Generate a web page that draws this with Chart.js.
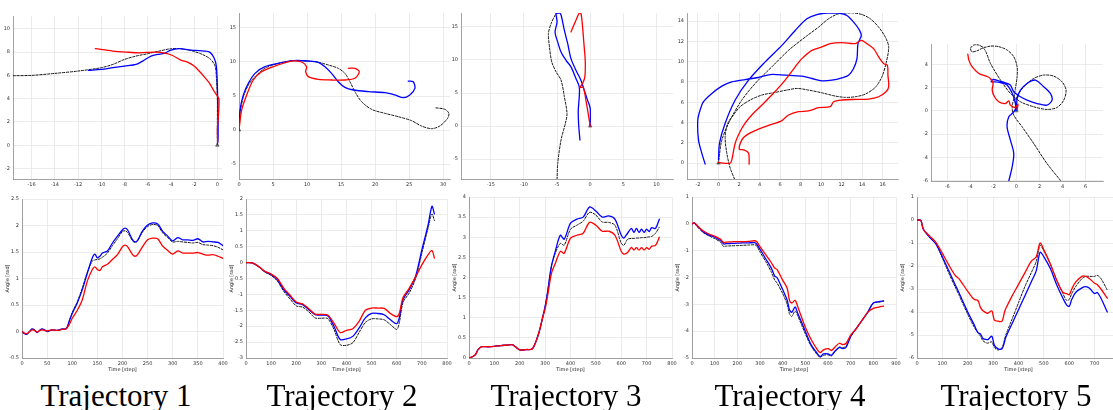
<!DOCTYPE html>
<html><head><meta charset="utf-8">
<script src="https://cdn.jsdelivr.net/npm/chart.js@4.4.0/dist/chart.umd.min.js"></script>
<style>
html,body{margin:0;padding:0;background:#fff;overflow:hidden;width:1113px;height:410px;position:relative;}
canvas{position:absolute;}
.ttl{position:absolute;top:378px;font-family:"Liberation Serif","DejaVu Serif",serif;font-size:31px;line-height:normal;transform:translateX(-50%);white-space:nowrap;color:#000;}
</style></head><body>
<script>
// ---------- Trajectory XY paths (black = reference dashed, blue, red) ----------
const traj1BlackX = [-17.57,-16,-14,-12,-10,-9,-8,-7,-6,-5,-4,-3.14,-2.14,-1.29,-0.57,-0.2,-0.09,0,0,0];
const traj1BlackY = [5.97,6.0,6.17,6.37,6.66,6.94,7.37,7.66,7.86,8.09,8.29,8.29,8.09,7.8,7.37,6.8,5.94,3.94,1.66,0.23];
const traj1BlueX = [-11.1,-10,-9,-8,-7,-6.43,-5.71,-5.14,-4.57,-4,-3.29,-2.71,-1.86,-1.14,-0.66,-0.29,-0.09,0,0.06,0.06,0];
const traj1BlueY = [6.43,6.51,6.66,6.8,6.94,7.23,7.66,7.8,7.89,8.17,8.29,8.23,8.14,8.09,8.0,7.51,6.8,5.09,2.51,0.51,0.09];
const traj1RedX = [-10.51,-9,-7.86,-6.71,-5.29,-4.43,-3.86,-3.14,-2.57,-2,-1.57,-1.14,-0.71,-0.29,0,0.14,0.09,0,0.03];
const traj1RedY = [8.29,8.09,8.0,7.94,8.0,7.89,7.71,7.31,7.14,6.8,6.37,5.89,5.37,4.66,4.23,3.94,2.51,1.37,0.23];

const traj2BlackX = [0,0.15,0.64,1.37,2.35,3.82,5.77,7.98,10.18,11.65,13.12,14.58,15.56,16.3,17.03,18.0,19.48,21.44,23.4,25.36,26.8,28.29,29.5,30.64,30.83,30.25,28.78];
const traj2BlackY = [0,2.45,4.9,6.6,7.84,9.07,9.8,10.2,10.14,9.95,9.56,9.07,8.33,7.1,5.64,4.17,3.04,2.45,1.96,1.37,0.59,0.2,0.59,1.71,2.45,3.04,3.28];
const traj2BlueX = [0,0.15,0.64,1.37,2.35,3.82,5.77,7.98,10.18,11.65,12.63,13.6,14.58,15.56,16.79,18.99,21.44,22.9,24.13,25.1,25.84,25.6,24.86];
const traj2BlueY = [0,2.94,5.15,6.86,8.33,9.31,9.8,10.2,10.14,9.95,9.31,8.33,7.1,6.27,5.88,5.64,5.49,5.15,4.75,5.15,6.12,7.1,7.2];
const traj2RedX = [0,0.39,1.13,2.1,3.33,5.29,7.73,9.2,9.93,9.79,10.18,11.65,13.6,15.56,17.03,17.67,17.03,16.05];
const traj2RedY = [0,2.94,5.15,7.35,8.57,9.41,10.14,10.0,9.31,8.57,7.84,7.44,7.35,7.35,7.6,8.57,9.07,9.07];

const traj3BlackX = [-5,-4.9,-4.4,-3.75,-3.5,-3.9,-4.4,-5.15,-5.8,-6.15,-6.3,-5.9,-5.15,-4.9];
const traj3BlackY = [-8.05,-5.64,-2.1,0.4,1.9,4.43,6.95,8.2,9.7,12.0,14.0,15.5,17.0,17.1];
const traj3BlueX = [0,0,-0.4,-0.9,-1.4,-2.15,-2.9,-3.4,-3.9,-4.4,-4.65,-5.15,-5,-5.3,-4.9,-4.4,-3.65,-2.9,-2.15,-1.65,-1.65,-1.8,-1.75,-1.55];
const traj3BlueY = [0,2.67,3.93,5.44,6.95,8.45,10.2,12.5,14.5,16.8,17.1,17.1,15.75,14.2,12.7,11.2,9.95,8.95,7.2,5.94,4.43,2.4,0.4,-2.1];
const traj3RedX = [0,-0.3,-0.65,-1.05,-1.55,-1.15,-0.8,-0.75,-0.95,-1.15,-1.4,-1.65,-2.15,-2.9];
const traj3RedY = [0,1.9,3.93,5.84,5.84,6.44,7.45,9.96,12.5,15.0,17.1,17.1,16.0,14.24];

const traj4BlackX = [1.56,1.14,0.81,0.65,0.91,1.46,2.11,3.09,4.23,5.53,6.67,7.64,8.78,10.08,11.38,12.36,13.33,14.31,15.28,15.93,16.33,16.59,16.26,15.61,14.8,13.98,13.0,11.71,10.73,9.76,8.46,6.83,5.2,3.58,2.28,1.14,0.33,0.07,0];
const traj4BlackY = [-1.57,-0.49,0.98,2.62,3.93,4.74,5.56,6.22,6.71,6.97,7.2,7.36,7.2,6.93,6.61,6.48,6.54,6.8,7.46,8.5,9.81,11.45,12.43,13.41,14.23,14.65,14.82,14.72,14.23,13.41,12.43,11.12,9.49,7.85,6.22,4.25,2.29,0.65,0];
const traj4BlueX = [-1.3,-1.63,-1.95,-2.02,-1.79,-1.46,-0.65,0.33,1.3,2.6,3.9,5.04,6.5,8.13,9.1,10.08,11.06,12.03,12.68,13.17,13.5,13.6,13.92,13.66,13.17,12.52,11.71,10.73,9.59,8.62,7.48,6.18,4.55,2.93,1.63,0.65,0.1,0];
const traj4BlueY = [-0.1,0.98,2.29,4.25,5.23,6.05,6.87,7.59,8.01,8.24,8.44,8.73,8.67,8.57,8.34,8.11,8.18,8.41,8.67,9.32,10.3,11.78,12.59,13.25,13.9,14.56,14.79,14.82,14.65,14.23,13.08,11.61,9.98,8.18,6.22,3.93,1.96,0.33];
const traj4RedX = [2.99,2.93,2.44,2.02,2.28,2.76,3.74,5.04,6.18,6.83,7.8,8.78,9.76,10.89,11.22,12.03,13.33,14.63,15.61,16.33,16.59,16.52,16.46,16.1,15.61,15.12,14.47,13.92,13.33,12.03,10.89,10.08,9.11,8.13,7.48,6.5,5.2,4.23,3.25,2.6,2.11,1.63,1.3,1.14,0.33,0];
const traj4RedY = [-0.1,0.98,1.31,1.37,2.29,2.78,3.27,3.76,4.19,4.74,5.07,5.14,5.46,5.56,6.05,6.22,6.28,6.31,6.54,7.03,7.52,8.67,9.65,9.81,10.47,11.29,11.78,12.1,11.78,11.87,11.78,11.45,11.12,10.3,9.49,8.18,6.71,5.72,4.74,3.93,3.11,1.96,0.33,0,0,0.07];

const traj5BlackX = [3.81,2.65,1.5,0.49,-0.23,-0.37,-0.23,-0.09,0.06,0.06,-0.23,-0.81,-1.53,-2.25,-2.83,-3.26,-3.69,-3.98,-3.84,-3.4,-2.83,-2.25,-1.38,-0.52,0.35,1.5,2.65,3.52,4.1,4.3,3.95,3.23,2.37,1.5,0.78,0.2,-0.09,0.06];
const traj5BlackY = [-5.99,-4.55,-2.82,-1.38,-0.37,0.35,1.06,1.93,2.94,3.8,4.66,5.24,5.53,5.58,5.47,5.67,5.67,5.38,5.09,5.18,5.38,4.09,2.65,1.5,0.78,0.35,0.12,0.29,0.92,1.78,2.5,2.99,3.08,2.79,2.22,1.5,0.78,0.06];
const traj5BlueX = [-0.66,-0.37,-0.23,-0.52,-0.81,-0.66,-0.23,0,0.06,0.35,0.92,1.64,2.37,2.94,3.09,2.65,1.79,0.92,0.35,-0.23,-0.52,-0.95,-1.53,-2.02,-2.19,-1.82,-1.38,-0.81,-0.29,-0.09,0];
const traj5BlueY = [-6.04,-4.83,-3.68,-2.53,-1.38,-0.52,-0.09,0.35,1.06,1.78,2.36,2.65,2.07,1.5,0.92,0.49,0.63,0.92,1.21,1.64,2.22,2.42,2.59,2.7,2.5,2.5,2.42,2.22,1.35,0.63,0.06];
const traj5RedX = [-4.21,-4.12,-3.84,-3.26,-2.48,-2.19,-2.02,-2.1,-1.9,-1.53,-0.95,-0.66,-0.52,-0.09,0.14,0.06];
const traj5RedY = [4.89,4.37,3.8,3.22,2.94,2.7,2.36,1.78,1.21,0.78,0.63,0.86,0.49,0.29,0.58,0.12];

const startX = [0];
const startY = [0];

// ---------- Angle vs time ----------
const ang1Time = [0,5,10,15,20,25,30,35,40,45,50,60,70,80,88,95,100,110,120,130,140,145,150,155,160,170,180,190,200,205,210,220,225,230,240,250,260,270,280,290,300,310,320,330,340,350,360,370,380,390,400];
const ang1Blue = [0,-0.04,-0.05,0,0.05,0.03,-0.02,0.02,0.05,0.03,0,0.03,0.02,0.05,0.05,0.22,0.34,0.54,0.79,1.1,1.39,1.46,1.39,1.42,1.48,1.52,1.67,1.8,1.92,1.95,1.92,1.73,1.69,1.72,1.9,2.01,2.05,2.03,1.89,1.8,1.71,1.77,1.73,1.73,1.72,1.75,1.69,1.7,1.69,1.68,1.62];
const ang1Black = [0,-0.04,-0.05,0,0.04,0.03,-0.02,0.02,0.04,0.03,0,0.03,0.02,0.04,0.05,0.23,0.36,0.56,0.82,1.12,1.33,1.35,1.36,1.37,1.4,1.48,1.62,1.75,1.89,1.9,1.87,1.71,1.68,1.71,1.88,1.98,2.02,2.0,1.86,1.77,1.69,1.7,1.69,1.68,1.67,1.68,1.64,1.63,1.62,1.59,1.54];
const ang1Red = [0,-0.03,-0.04,0,0.03,0.02,-0.01,0.02,0.03,0.02,0.01,0.03,0.02,0.04,0.05,0.15,0.25,0.4,0.6,0.95,1.17,1.22,1.17,1.15,1.22,1.27,1.36,1.45,1.6,1.63,1.6,1.45,1.42,1.45,1.6,1.73,1.76,1.75,1.61,1.53,1.46,1.52,1.48,1.48,1.48,1.49,1.46,1.44,1.45,1.42,1.38];

const ang2Time = [0,25,50,75,100,125,150,175,200,225,250,275,300,325,350,375,400,425,450,475,500,525,550,575,600,610,625,650,675,700,725,740,750];
const ang2Blue = [0,-0.01,-0.12,-0.28,-0.38,-0.54,-0.85,-1.06,-1.27,-1.32,-1.48,-1.64,-1.65,-1.67,-2.0,-2.42,-2.4,-2.32,-2.06,-1.74,-1.6,-1.6,-1.64,-1.8,-1.92,-1.74,-1.16,-0.85,-0.43,0.4,1.19,1.77,1.53];
const ang2Black = [0,-0.01,-0.13,-0.3,-0.4,-0.58,-0.9,-1.14,-1.36,-1.4,-1.55,-1.74,-1.75,-1.76,-2.1,-2.58,-2.6,-2.52,-2.2,-1.88,-1.77,-1.77,-1.8,-1.95,-2.1,-1.9,-1.25,-0.95,-0.5,0.3,1.1,1.53,1.32];
const ang2Red = [0,-0.01,-0.12,-0.27,-0.36,-0.5,-0.8,-1.02,-1.24,-1.3,-1.45,-1.62,-1.63,-1.65,-1.9,-2.2,-2.13,-2.08,-1.85,-1.5,-1.43,-1.43,-1.44,-1.6,-1.7,-1.6,-1.1,-0.8,-0.45,-0.07,0.25,0.38,0.14];

const ang3Time = [0,10,25,35,50,75,100,125,150,170,185,200,225,250,275,290,300,310,325,340,360,375,400,425,450,475,500,525,550,575,600,610,625,640,650,660,670,680,690,700,710,720,735,750];
const ang3Blue = [0,0.02,0.08,0.2,0.28,0.28,0.29,0.31,0.32,0.33,0.27,0.2,0.21,0.23,0.62,1.0,1.28,1.65,2.28,2.65,3.05,2.95,3.35,3.45,3.5,3.75,3.65,3.5,3.53,3.45,3.05,2.98,3.1,3.22,3.12,3.22,3.12,3.2,3.12,3.2,3.14,3.24,3.22,3.45];
const ang3Black = [0,0.02,0.08,0.2,0.28,0.28,0.29,0.31,0.32,0.33,0.27,0.2,0.21,0.23,0.62,1.0,1.28,1.65,2.3,2.6,2.85,2.8,3.2,3.3,3.4,3.62,3.55,3.38,3.37,3.3,2.85,2.8,2.95,2.97,2.97,2.98,2.98,2.99,2.99,3.0,3.01,3.02,3.1,3.25];
const ang3Red = [0,0.02,0.08,0.2,0.28,0.28,0.29,0.31,0.32,0.33,0.27,0.2,0.21,0.23,0.62,1.0,1.22,1.55,2.1,2.35,2.65,2.6,2.98,3.05,3.1,3.37,3.3,3.15,3.15,3.05,2.65,2.58,2.62,2.75,2.68,2.74,2.68,2.74,2.68,2.74,2.7,2.78,2.8,3.0];

const ang4Time = [0,10,25,50,75,100,125,140,150,175,200,225,250,275,285,300,325,350,365,375,400,420,430,440,455,465,480,500,525,550,565,580,600,615,630,650,665,680,700,725,750,775,800,825,845];
const ang4Blue = [0,0.03,-0.1,-0.3,-0.42,-0.5,-0.62,-0.75,-0.74,-0.73,-0.72,-0.71,-0.71,-0.7,-0.75,-0.95,-1.3,-1.65,-1.95,-2.0,-2.45,-2.85,-3.2,-3.3,-3.1,-3.3,-3.6,-4.0,-4.5,-4.8,-4.95,-4.85,-4.85,-4.9,-4.75,-4.6,-4.65,-4.6,-4.2,-3.9,-3.6,-3.3,-2.95,-2.9,-2.87];
const ang4Black = [0,0.02,-0.12,-0.33,-0.45,-0.55,-0.68,-0.85,-0.83,-0.82,-0.81,-0.8,-0.79,-0.78,-0.82,-1.05,-1.4,-1.8,-2.1,-2.2,-2.6,-3.0,-3.35,-3.45,-3.25,-3.4,-3.7,-4.1,-4.55,-4.85,-4.97,-4.9,-4.88,-4.92,-4.78,-4.6,-4.62,-4.55,-4.2,-3.9,-3.6,-3.3,-2.95,-2.92,-2.88];
const ang4Red = [0,0.04,-0.08,-0.27,-0.38,-0.46,-0.57,-0.7,-0.68,-0.67,-0.66,-0.66,-0.65,-0.63,-0.66,-0.85,-1.15,-1.45,-1.65,-1.7,-2.1,-2.4,-2.85,-2.95,-2.85,-3.05,-3.4,-3.85,-4.3,-4.65,-4.8,-4.7,-4.65,-4.72,-4.6,-4.45,-4.5,-4.45,-4.15,-3.9,-3.6,-3.3,-3.15,-3.1,-3.07];

const ang5Time = [0,15,25,50,75,100,125,150,165,175,200,225,240,250,260,275,280,295,305,320,335,345,350,375,400,425,450,470,485,500,525,550,575,590,600,610,625,650,665,680,700,710,725,750];
const ang5Blue = [0,-0.02,-0.4,-0.75,-1.05,-1.6,-2.2,-2.8,-3.15,-3.4,-4.0,-4.55,-4.9,-4.95,-5.15,-5.2,-5.2,-5.05,-5.45,-5.6,-5.6,-5.3,-5.1,-4.5,-3.9,-3.3,-2.7,-2.2,-1.4,-1.6,-2.1,-2.8,-3.4,-3.7,-3.75,-3.45,-3.15,-2.95,-2.9,-2.97,-3.2,-3.15,-3.4,-4.0];
const ang5Black = [0,-0.02,-0.4,-0.75,-1.05,-1.65,-2.3,-2.9,-3.25,-3.5,-4.1,-4.65,-4.9,-5.05,-5.25,-5.35,-5.35,-5.3,-5.55,-5.65,-5.55,-5.2,-5.0,-4.3,-3.6,-2.9,-2.3,-1.8,-1.1,-1.35,-1.9,-2.6,-3.2,-3.5,-3.45,-3.2,-2.9,-2.55,-2.45,-2.45,-2.45,-2.4,-2.55,-3.05];
const ang5Red = [0,-0.02,-0.4,-0.7,-0.98,-1.45,-1.95,-2.4,-2.55,-2.7,-3.1,-3.45,-3.5,-3.8,-3.95,-4.05,-4.05,-3.95,-4.35,-4.4,-4.4,-4.0,-3.85,-3.3,-2.8,-2.3,-1.8,-1.6,-1.0,-1.3,-1.9,-2.6,-3.15,-3.2,-3.25,-3.0,-2.7,-2.45,-2.45,-2.55,-2.75,-2.8,-3.0,-3.4];

// ---------- Tick values ----------
const tr1XTicks = [-16,-14,-12,-10,-8,-6,-4,-2,0];
const tr1YTicks = [-2,0,2,4,6,8,10];
const tr2XTicks = [0,5,10,15,20,25,30];
const tr2YTicks = [-5,0,5,10,15];
const tr3XTicks = [-15,-10,-5,0,5,10];
const tr3YTicks = [-5,0,5,10,15];
const tr4XTicks = [-2,0,2,4,6,8,10,12,14,16];
const tr4YTicks = [0,2,4,6,8,10,12,14];
const tr5XTicks = [-6,-4,-2,0,2,4,6];
const tr5YTicks = [-6,-4,-2,0,2,4];
const ang1XTicks = [0,50,100,150,200,250,300,350,400];
const ang1YTicks = [-0.5,0,0.5,1,1.5,2,2.5];
const ang2XTicks = [0,100,200,300,400,500,600,700,800];
const ang2YTicks = [-3,-2.5,-2,-1.5,-1,-0.5,0,0.5,1,1.5,2];
const ang3XTicks = [0,100,200,300,400,500,600,700,800];
const ang3YTicks = [0,0.5,1,1.5,2,2.5,3,3.5,4];
const ang4XTicks = [0,100,200,300,400,500,600,700,800,900];
const ang4YTicks = [-5,-4,-3,-2,-1,0,1];
const ang5XTicks = [0,100,200,300,400,500,600,700,800];
const ang5YTicks = [-6,-5,-4,-3,-2,-1,0,1];

const titles = ["Trajectory 1","Trajectory 2","Trajectory 3","Trajectory 4","Trajectory 5"];

// ---------- helpers ----------
function pts(xs, ys){ return xs.map((x,i)=>({x:x, y:ys[i]})); }
function line(data, kind){
  const b = {data:data, showLine:true, pointRadius:0, pointHoverRadius:0, fill:false, tension:0.3, borderCapStyle:'round', borderJoinStyle:'round'};
  if(kind==='black') return Object.assign(b,{borderColor:'#111', borderWidth:1, borderDash:[2.2,1.6]});
  if(kind==='blue') return Object.assign(b,{borderColor:'#0000ff', borderWidth:1.3});
  return Object.assign(b,{borderColor:'#ff0000', borderWidth:1.3});
}
function startMark(){
  return {data:pts(startX,startY), showLine:false, pointRadius:2, pointStyle:'triangle', backgroundColor:'rgba(90,90,90,0.8)', borderColor:'#444', borderWidth:0.6};
}
function makeChart(box, xr, yr, xTicks, yTicks, datasets, o){
  const L=o.L, B=o.B, T=6, R=10;
  const w=box.r-box.l, h=box.b-box.t;
  const c=document.createElement('canvas');
  c.width=w+L+R; c.height=h+T+B;
  c.style.left=(box.l-L)+'px'; c.style.top=(box.t-T)+'px';
  c.style.width=c.width+'px'; c.style.height=c.height+'px';
  document.body.appendChild(c);
  const tf={family:'DejaVu Sans', size:5};
  const grid={color:'#e2e2e2', lineWidth:0.7, borderDash:[2,2], drawTicks:false};
  const border={color:'#8c8c8c', width:0.8};
  new Chart(c,{type:'scatter', data:{datasets:datasets}, options:{
    responsive:false, animation:false, devicePixelRatio:1, events:[],
    layout:{padding:{top:T, right:R, left:0, bottom:0}},
    plugins:{legend:{display:false}, tooltip:{enabled:false}},
    scales:{
      x:{type:'linear', min:xr[0], max:xr[1],
        afterBuildTicks:s=>{s.ticks=xTicks.map(v=>({value:v}));},
        afterFit:s=>{s.height=B;},
        grid:grid, border:border,
        ticks:{font:tf, color:'#333', padding:3, maxRotation:0, autoSkip:false, callback:v=>String(v)},
        title:o.xTitle?{display:true, text:o.xTitle, font:tf, color:'#222', padding:{top:0,bottom:0}}:{display:false}
      },
      y:{type:'linear', min:yr[0], max:yr[1],
        afterBuildTicks:s=>{s.ticks=yTicks.map(v=>({value:v}));},
        afterFit:s=>{s.width=L;},
        grid:grid, border:border,
        ticks:{font:tf, color:'#333', padding:3, autoSkip:false, callback:v=>String(v)},
        title:o.yTitle?{display:true, text:o.yTitle, font:tf, color:'#222', padding:{top:0,bottom:0}}:{display:false}
      }
    }
  }});
}

// ---------- top row: trajectories ----------
const topOpt={L:13, B:10};
makeChart({l:13,t:16,r:222,b:179}, [-17.6,0.4], [-2.9,11.1], tr1XTicks, tr1YTicks,
  [line(pts(traj1RedX,traj1RedY),'red'), line(pts(traj1BlueX,traj1BlueY),'blue'), line(pts(traj1BlackX,traj1BlackY),'black'), startMark()], topOpt);
makeChart({l:239,t:13,r:450,b:179}, [0,31], [-7.2,17.2], tr2XTicks, tr2YTicks,
  [line(pts(traj2RedX,traj2RedY),'red'), line(pts(traj2BlueX,traj2BlueY),'blue'), line(pts(traj2BlackX,traj2BlackY),'black'), startMark()], topOpt);
makeChart({l:461,t:13,r:673,b:179}, [-19.5,12.5], [-8,17.1], tr3XTicks, tr3YTicks,
  [line(pts(traj3RedX,traj3RedY),'red'), line(pts(traj3BlueX,traj3BlueY),'blue'), line(pts(traj3BlackX,traj3BlackY),'black'), startMark()], topOpt);
makeChart({l:687,t:13,r:898,b:179}, [-3.07,17.5], [-1.57,14.8], tr4XTicks, tr4YTicks,
  [line(pts(traj4RedX,traj4RedY),'red'), line(pts(traj4BlueX,traj4BlueY),'blue'), line(pts(traj4BlackX,traj4BlackY),'black'), startMark()], topOpt);
makeChart({l:931,t:44,r:1103,b:181}, [-7.4,7.5], [-6.05,5.76], tr5XTicks, tr5YTicks,
  [line(pts(traj5RedX,traj5RedY),'red'), line(pts(traj5BlueX,traj5BlueY),'blue'), line(pts(traj5BlackX,traj5BlackY),'black'), startMark()], topOpt);

// ---------- bottom row: angles ----------
const botOpt={L:17, B:15, xTitle:'Time [step]', yTitle:'Angle [rad]'};
makeChart({l:22,t:199,r:223,b:358}, [0,400], [-0.5,2.5], ang1XTicks, ang1YTicks,
  [line(pts(ang1Time,ang1Red),'red'), line(pts(ang1Time,ang1Blue),'blue'), line(pts(ang1Time,ang1Black),'black')], botOpt);
makeChart({l:246,t:199,r:447,b:358}, [0,800], [-3,2], ang2XTicks, ang2YTicks,
  [line(pts(ang2Time,ang2Red),'red'), line(pts(ang2Time,ang2Blue),'blue'), line(pts(ang2Time,ang2Black),'black')], botOpt);
makeChart({l:469,t:197,r:672,b:358}, [0,800], [0,4], ang3XTicks, ang3YTicks,
  [line(pts(ang3Time,ang3Red),'red'), line(pts(ang3Time,ang3Blue),'blue'), line(pts(ang3Time,ang3Black),'black')], botOpt);
makeChart({l:692,t:197,r:896,b:358}, [0,900], [-5,1], ang4XTicks, ang4YTicks,
  [line(pts(ang4Time,ang4Red),'red'), line(pts(ang4Time,ang4Blue),'blue'), line(pts(ang4Time,ang4Black),'black')], botOpt);
makeChart({l:917,t:197,r:1120,b:358}, [0,800], [-6,1], ang5XTicks, ang5YTicks,
  [line(pts(ang5Time,ang5Red),'red'), line(pts(ang5Time,ang5Blue),'blue'), line(pts(ang5Time,ang5Black),'black')], botOpt);

// ---------- titles ----------
const titleCenters=[116,342,566,790,1016];
titles.forEach((t,i)=>{
  const d=document.createElement('div');
  d.className='ttl'; d.textContent=t; d.style.left=titleCenters[i]+'px';
  document.body.appendChild(d);
});
</script>
</body></html>
